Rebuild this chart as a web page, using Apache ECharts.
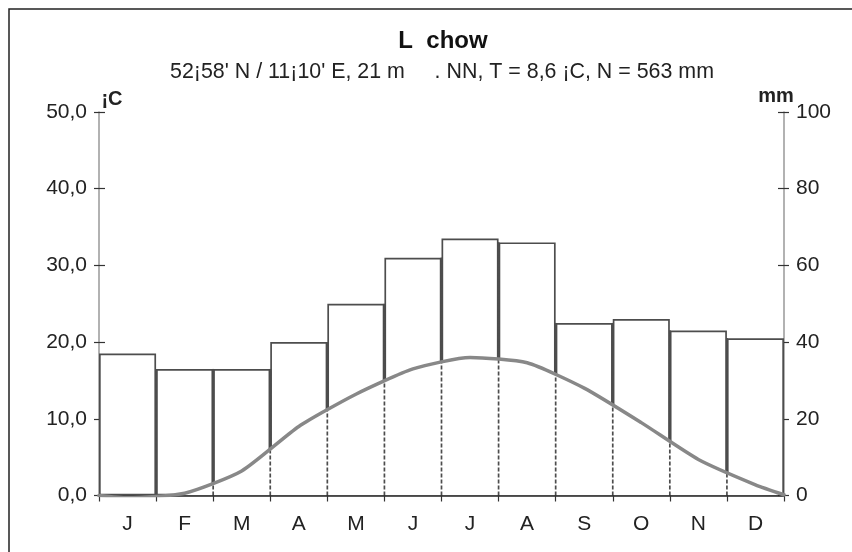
<!DOCTYPE html>
<html>
<head>
<meta charset="utf-8">
<title>Lüchow Klimadiagramm</title>
<script src="https://cdn.jsdelivr.net/npm/echarts@6/dist/echarts.min.js"></script>
<style>
  html, body { margin: 0; padding: 0; background: #fff; }
  #chart { width: 852px; height: 552px; }
</style>
</head>
<body>
<div id="chart"></div>
<script>
// Monthly climate normals
const months = ['J', 'F', 'M', 'A', 'M', 'J', 'J', 'A', 'S', 'O', 'N', 'D'];
const precipMm = [37, 33, 33, 40, 50, 62, 67, 66, 45, 46, 43, 41];
const tempC = [-0.3, 0.3, 3.2, 9.0, 13.2, 16.5, 18.0, 17.3, 14.0, 9.5, 4.7, 1.4];
// temperature at the year's start / end edge of the plot
const tempEdgeStart = 0.0;
const tempEdgeEnd = 0.1;

const titleText = 'L  chow';
const subtitleText = "52\u00a158' N / 11\u00a110' E, 21 m     . NN, T = 8,6 \u00a1C, N = 563 mm";
const tempUnit = '\u00a1C';
const precipUnit = 'mm';

const FONT = '"Liberation Sans", Arial, sans-serif';
const EDGE_COLOR = '#4d4d4d';
const EDGE_WIDTH = 1.7;

// Temperature curve on a continuous month axis (0..12), points at month centres
const tempPoints = [[0, tempEdgeStart]]
  .concat(tempC.map((v, i) => [i + 0.5, v]))
  .concat([[12, tempEdgeEnd]]);

// Inner month boundaries with the lower of the two neighbouring bars
const boundaries = [];
for (let k = 1; k < months.length; k++) {
  boundaries.push([k, Math.min(precipMm[k - 1], precipMm[k])]);
}

// Vertical separator between month k-1 and month k, from 0 up to the lower bar top
function separator(dash) {
  return function (params, api) {
    const k = api.value(0);
    const h = api.value(1);
    const half = api.size([1, 0])[0] / 2;
    const x = api.coord([k, 0])[0] - half;
    const y0 = api.coord([k, 0])[1];
    const y1 = api.coord([k, h])[1];
    const style = { stroke: EDGE_COLOR, lineWidth: EDGE_WIDTH };
    if (dash) style.lineDash = [4, 2];
    return { type: 'line', shape: { x1: x, y1: y0, x2: x, y2: y1 }, style: style };
  };
}

const chart = echarts.init(document.getElementById('chart'), null, { renderer: 'canvas' });

const labelStyle = { fontFamily: FONT, fontSize: 21, color: '#222' };
const SMOOTH = 0.2;

chart.setOption({
  animation: false,
  backgroundColor: '#fff',
  grid: { left: 99, right: 68, top: 112, bottom: 56.5 },
  graphic: [
    { type: 'rect', shape: { x: 9, y: 9, width: 900, height: 600 },
      style: { fill: 'none', stroke: '#222', lineWidth: 1.5 }, silent: true },
    { type: 'text', x: 443, y: 41,
      style: { text: titleText, font: 'bold 24px ' + FONT, fill: '#111',
               textAlign: 'center', textVerticalAlign: 'middle' } },
    { type: 'text', x: 442, y: 72,
      style: { text: subtitleText, font: '21.4px ' + FONT, fill: '#222',
               textAlign: 'center', textVerticalAlign: 'middle' } },
    { type: 'text', x: 112, y: 99,
      style: { text: tempUnit, font: 'bold 20px ' + FONT, fill: '#222',
               textAlign: 'center', textVerticalAlign: 'middle' } },
    { type: 'text', x: 776, y: 96,
      style: { text: precipUnit, font: 'bold 20px ' + FONT, fill: '#222',
               textAlign: 'center', textVerticalAlign: 'middle' } }
  ],
  xAxis: [
    {
      type: 'category', data: months, boundaryGap: true, z: 3,
      axisLine: { lineStyle: { color: '#222', width: 1.5 } },
      axisTick: { show: true, inside: false, length: 6, lineStyle: { color: '#333', width: 1.2 } },
      axisLabel: Object.assign({ margin: 18 }, labelStyle),
      splitLine: { show: false }
    },
    { type: 'value', min: 0, max: 12, show: false }
  ],
  yAxis: [
    {
      type: 'value', position: 'left', min: 0, max: 50, interval: 10,
      axisLine: { show: true, lineStyle: { color: '#999', width: 1.5 } },
      axisTick: { show: true, inside: false, length: 5, lineStyle: { color: '#333', width: 1.2 } },
      axisLabel: Object.assign({ margin: 12, formatter: v => v.toFixed(1).replace('.', ',') }, labelStyle),
      splitLine: { show: false }
    },
    {
      type: 'value', position: 'right', min: 0, max: 100, interval: 20,
      axisLine: { show: true, lineStyle: { color: '#999', width: 1.5 } },
      axisTick: { show: true, inside: false, length: 5, lineStyle: { color: '#333', width: 1.2 } },
      axisLabel: Object.assign({ margin: 12 }, labelStyle),
      splitLine: { show: false }
    },
    {
      type: 'value', position: 'left', min: 0, max: 50, interval: 10,
      axisLine: { show: false },
      axisTick: { show: true, inside: true, length: 6, lineStyle: { color: '#333', width: 1.2 } },
      axisLabel: { show: false }, splitLine: { show: false }
    },
    {
      type: 'value', position: 'right', min: 0, max: 100, interval: 20,
      axisLine: { show: false },
      axisTick: { show: true, inside: true, length: 6, lineStyle: { color: '#333', width: 1.2 } },
      axisLabel: { show: false }, splitLine: { show: false }
    }
  ],
  series: [
    {
      name: 'Niederschlag', type: 'bar', xAxisIndex: 0, yAxisIndex: 1,
      data: precipMm, barCategoryGap: 0, z: 1,
      itemStyle: { color: '#fff', borderColor: EDGE_COLOR, borderWidth: EDGE_WIDTH },
      silent: true
    },
    {
      name: 'Grenzen', type: 'custom', xAxisIndex: 0, yAxisIndex: 1, z: 1.5,
      data: boundaries, renderItem: separator(false), silent: true
    },
    {
      // white fill below the temperature curve hides the month edges there
      name: 'TempFill', type: 'line', xAxisIndex: 1, yAxisIndex: 0,
      data: tempPoints, smooth: SMOOTH, symbol: 'none', z: 2,
      lineStyle: { width: 0, opacity: 0 },
      areaStyle: { color: '#fff', opacity: 1 },
      silent: true
    },
    {
      // dashed month separators; above the curve they lie on the solid edges
      name: 'Trennlinien', type: 'custom', xAxisIndex: 0, yAxisIndex: 1, z: 3,
      data: boundaries, renderItem: separator(true), silent: true
    },
    {
      name: 'Temperatur', type: 'line', xAxisIndex: 1, yAxisIndex: 0,
      data: tempPoints, smooth: SMOOTH, symbol: 'none', z: 4,
      lineStyle: { color: '#888', width: 3.5, cap: 'round', join: 'round' },
      silent: true
    }
  ]
});
</script>
</body>
</html>
